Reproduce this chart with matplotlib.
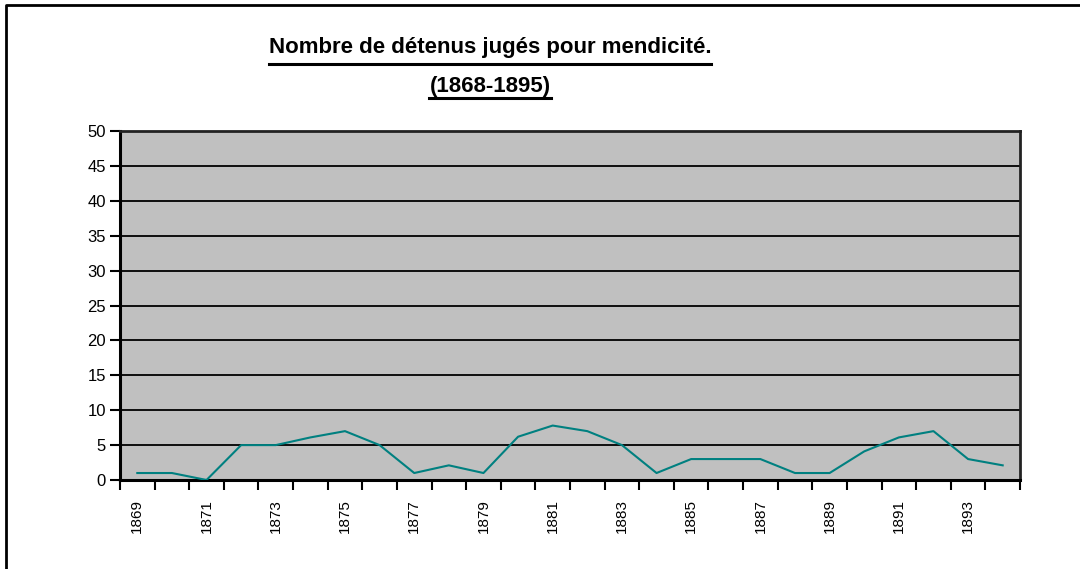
import matplotlib
matplotlib.use("Agg")
import matplotlib.pyplot as plt
import numpy as np
from matplotlib.lines import Line2D

plt.rcParams['font.family'] = ['Liberation Sans', 'DejaVu Sans']

years = [str(y) for y in range(1869, 1895)]
detenus = [1, 1, 0, 5, 5, 6.1, 7, 5, 1, 2.1, 1, 6.2, 7.8, 7, 5, 1,
           3, 3, 3, 1, 1, 4.1, 6.1, 7, 3, 2.1]
yticks = list(range(0, 55, 5))

fig = plt.figure(figsize=(10.8, 5.69), dpi=100)
ax = fig.add_axes([120/1080, 1-480/569, 900/1080, 349/569])
ax.set_facecolor('#c0c0c0')

x = np.arange(len(years))
ax.plot(x, detenus, color='#008080', lw=1.5, zorder=3)

ax.set_xlim(-0.5, len(years) - 0.5)
ax.set_ylim(0, 50)
ax.set_yticks(yticks)
ax.set_yticklabels([str(v) for v in yticks], fontsize=12)
ax.yaxis.grid(True, color='black', lw=1.3)
ax.set_axisbelow(True)

# ticks between categories, labels on every other category
ax.set_xticks(np.arange(-0.5, len(years), 1.0))
ax.set_xticklabels([])
ax.set_xticks(x[::2], minor=True)
ax.set_xticklabels(years[::2], minor=True, rotation=90, fontsize=11)
ax.tick_params(axis='x', which='minor', length=0, pad=14)
ax.tick_params(axis='x', which='major', length=7, width=1.5, direction='out')
ax.tick_params(axis='y', length=7, width=1.5, direction='out', pad=3)

for s in ['left', 'bottom']:
    ax.spines[s].set_linewidth(2.2)
for s in ['top', 'right']:
    ax.spines[s].set_linewidth(2)
    ax.spines[s].set_color('#222222')

# title with underline
t1 = fig.text(490/1080, 1-53/569, 'Nombre de détenus jugés pour mendicité.',
              ha='center', va='baseline', fontsize=16, fontweight='bold')
t2 = fig.text(490/1080, 1-92/569, '(1868-1895)',
              ha='center', va='baseline', fontsize=16, fontweight='bold')
fig.canvas.draw()
r = fig.canvas.get_renderer()
for t, yl in ((t1, 63.5), (t2, 97.5)):
    bb = t.get_window_extent(r)
    fig.add_artist(Line2D([bb.x0/1080, bb.x1/1080], [1-yl/569, 1-yl/569],
                          transform=fig.transFigure, color='black', lw=2.2))

# outer chart frame (left and top visible)
fig.add_artist(Line2D([6/1080, 6/1080, 1.0], [0, 1-5/569, 1-5/569],
                      transform=fig.transFigure, color='black', lw=2))

fig.savefig('out.png', dpi=100)
